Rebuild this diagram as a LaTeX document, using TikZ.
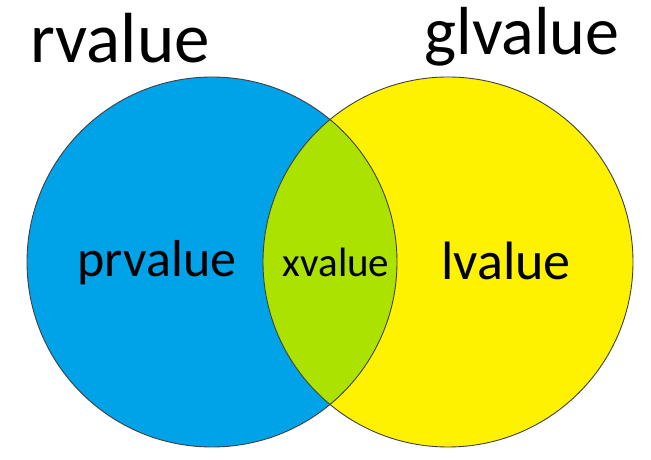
\documentclass[tikz,border=0pt]{standalone}
\usepackage{fontspec}
\setmainfont{Carlito}
\definecolor{vblue}{HTML}{00A2E8}
\definecolor{vyellow}{HTML}{FFF200}
\definecolor{vgreen}{HTML}{ABE200}
\definecolor{vline}{HTML}{404040}
\tikzset{
  lbl/.style={anchor=base, inner sep=0pt, text=black},
  ring/.style={draw=vline, line width=0.9pt},
}
\begin{document}
\begin{tikzpicture}[x=1pt,y=1pt]
\useasboundingbox (0,0) rectangle (651,460);
\fill[vblue] (212,198) circle (185);
\fill[vyellow] (448,198) circle (185);
\begin{scope}
  \clip (212,198) circle (185);
  \fill[vgreen] (448,198) circle (185);
\end{scope}
\draw[ring] (212,198) circle (185);
\draw[ring] (448,198) circle (185);
\node[lbl, font=\fontsize{71}{80}\selectfont] (rv) at (120,397) {rvalue};
\node[lbl, font=\fontsize{68}{80}\selectfont] (gv) at (522,405) {glvalue};
\node[lbl, font=\fontsize{52}{60}\selectfont] (pv) at (157,183) {prvalue};
\node[lbl, font=\fontsize{41}{50}\selectfont] (xv) at (336,183) {xvalue};
\node[lbl, font=\fontsize{54}{60}\selectfont] (lv) at (506,180) {lvalue};
\end{tikzpicture}
\end{document}
